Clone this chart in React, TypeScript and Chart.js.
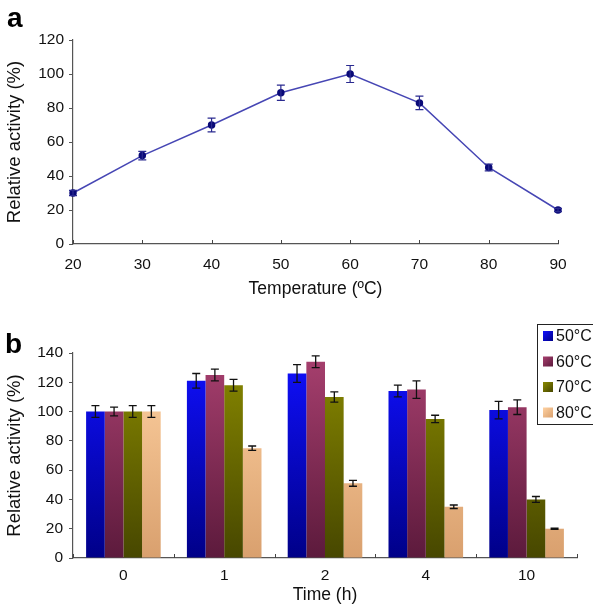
import React, { useEffect, useRef } from "react";
import { Chart, registerables } from "chart.js";

Chart.register(...registerables);

// ---- Panel a data ----
const temperatures = [20, 30, 40, 50, 60, 70, 80, 90];
const tempActivity = [30, 52, 70, 89, 100, 83, 45, 20];
const tempErrors = [1.5, 2.5, 4, 4.5, 5, 4, 2, 1];
const tempTicks = [20, 30, 40, 50, 60, 70, 80, 90];

// ---- Panel b data ----
const timeLabels = ["0", "1", "2", "4", "10"];
const seriesNames = ["50°C", "60°C", "70°C", "80°C"];
const act50 = [100, 121, 126, 114, 101];
const act60 = [100, 125, 134, 115, 103];
const act70 = [100, 118, 110, 95, 40];
const act80 = [100, 75, 51, 35, 20];
const err50 = [4, 5, 6, 4, 6];
const err60 = [3, 4, 4, 6, 5];
const err70 = [4, 4, 3.5, 2.5, 2];
const err80 = [4, 1.5, 2, 1.2, 0.4];

const FONT = "'Liberation Sans', Arial, sans-serif";

const seriesTop = ["#1010ff", "#a8406f", "#8a8a00", "#ffd2a2"];
const seriesBottom = ["#000088", "#5c1a3c", "#474700", "#d9a06e"];

const errorBarPlugin = {
  id: "errorBars",
  afterDatasetsDraw(chart: any) {
    const ctx = chart.ctx;
    const yScale = chart.scales.y;
    chart.data.datasets.forEach((ds: any, di: number) => {
      if (!ds.errors) return;
      const meta = chart.getDatasetMeta(di);
      ctx.save();
      ctx.strokeStyle = ds.errorColor || "#000";
      ctx.lineWidth = ds.errorWidth || 1.2;
      const cap = ds.errorCap || 4;
      meta.data.forEach((el: any, i: number) => {
        const v = ds.values[i];
        const e = ds.errors[i];
        const x = el.x;
        const y1 = yScale.getPixelForValue(v + e);
        const y2 = yScale.getPixelForValue(v - e);
        ctx.beginPath();
        ctx.moveTo(x, y1);
        ctx.lineTo(x, y2);
        ctx.moveTo(x - cap, y1);
        ctx.lineTo(x + cap, y1);
        ctx.moveTo(x - cap, y2);
        ctx.lineTo(x + cap, y2);
        ctx.stroke();
      });
      ctx.restore();
    });
  },
};

const innerTicksPlugin = {
  id: "innerTicks",
  afterDraw(chart: any, _args: any, opts: any) {
    const ctx = chart.ctx;
    const xs = chart.scales.x;
    const area = chart.chartArea;
    ctx.save();
    ctx.strokeStyle = "#444";
    ctx.lineWidth = 1;
    const positions: number[] = [];
    if (opts.boundaries) {
      const n = xs.ticks.length;
      for (let i = 0; i <= n; i++) positions.push(area.left + ((area.right - area.left) * i) / n);
    } else {
      xs.ticks.forEach((_t: any, i: number) => positions.push(xs.getPixelForTick(i)));
    }
    positions.forEach((p) => {
      const px = Math.round(p) + 0.5;
      ctx.beginPath();
      ctx.moveTo(px, area.bottom);
      ctx.lineTo(px, area.bottom - 4);
      ctx.stroke();
    });
    ctx.restore();
  },
};

const boxLegendPlugin = {
  id: "boxLegend",
  afterDraw(chart: any) {
    const ctx = chart.ctx;
    const area = chart.chartArea;
    const left = area.right - 40;
    const top = area.top - 29;
    const rowH = 25.5;
    ctx.save();
    ctx.strokeStyle = "#222";
    ctx.lineWidth = 1;
    ctx.fillStyle = "#fff";
    ctx.fillRect(left, top, chart.width - left + 2, 100);
    ctx.strokeRect(left + 0.5, top + 0.5, chart.width - left + 2, 100);
    chart.data.datasets.forEach((ds: any, i: number) => {
      const cy = top + 12 + i * rowH;
      const g = ctx.createLinearGradient(left + 6, cy - 5, left + 16, cy + 5);
      g.addColorStop(0, seriesTop[i]);
      g.addColorStop(1, seriesBottom[i]);
      ctx.fillStyle = g;
      ctx.fillRect(left + 6, cy - 5, 10, 10);
      ctx.fillStyle = "#111";
      ctx.font = `16px ${FONT}`;
      ctx.textBaseline = "middle";
      ctx.textAlign = "left";
      ctx.fillText(ds.label, left + 19, cy + 1);
    });
    ctx.restore();
  },
};

const panelLabelPlugin = {
  id: "panelLabel",
  afterDraw(chart: any, _args: any, opts: any) {
    const ctx = chart.ctx;
    ctx.save();
    ctx.fillStyle = "#000";
    ctx.font = `bold 28px ${FONT}`;
    ctx.textBaseline = "alphabetic";
    ctx.textAlign = "left";
    ctx.fillText(opts.text, opts.x, opts.y);
    ctx.restore();
  },
};

function tickFont() {
  return { family: FONT, size: 15.5 };
}

export default function App() {
  const refA = useRef<HTMLCanvasElement>(null);
  const refB = useRef<HTMLCanvasElement>(null);

  useEffect(() => {
    const chartA = new Chart(refA.current!, {
      type: "line",
      data: {
        datasets: [
          {
            label: "Relative activity",
            data: temperatures.map((t, i) => ({ x: t, y: tempActivity[i] })),
            values: tempActivity,
            borderColor: "#4646b4",
            borderWidth: 1.5,
            pointBackgroundColor: "#0a0a78",
            pointBorderColor: "#0a0a78",
            pointRadius: 3,
            pointStyle: "circle",
            tension: 0,
            clip: false,
            errors: tempErrors,
            errorColor: "#2a2a90",
            errorCap: 4,
            errorWidth: 1.2,
          } as any,
        ],
      },
      options: {
        animation: false,
        responsive: false,
        maintainAspectRatio: false,
        layout: { padding: { top: 40, right: 35, left: 0, bottom: 0 } },
        plugins: {
          legend: { display: false },
          tooltip: { enabled: false },
          innerTicks: { boundaries: false },
          panelLabel: { text: "a", x: 7, y: 27 },
        } as any,
        scales: {
          x: {
            type: "linear",
            min: 20,
            max: 90,
            afterBuildTicks: (s: any) => {
              s.ticks = tempTicks.map((v) => ({ value: v }));
            },
            grid: { display: false, drawTicks: false },
            border: { color: "#555", width: 1.2 },
            ticks: { font: tickFont(), color: "#111", padding: 11 },
            title: {
              display: true,
              text: "Temperature (ºC)",
              font: { family: FONT, size: 17.5 },
              color: "#111",
              padding: { top: 0, bottom: 0 },
            },
            afterFit: (s: any) => {
              s.height = 56;
            },
          },
          y: {
            min: 0,
            max: 120,
            ticks: { stepSize: 20, font: tickFont(), color: "#111", padding: 5 },
            grid: { drawOnChartArea: false, drawTicks: true, tickLength: 4, color: "#555" },
            border: { color: "#555", width: 1.2 },
            title: {
              display: true,
              text: "Relative activity (%)",
              font: { family: FONT, size: 18.5 },
              color: "#111",
              padding: { top: 4, bottom: 0 },
            },
            afterFit: (s: any) => {
              s.width = 73;
            },
          },
        },
      },
      plugins: [errorBarPlugin, innerTicksPlugin, panelLabelPlugin],
    });

    const seriesData = [act50, act60, act70, act80];
    const seriesErr = [err50, err60, err70, err80];

    const chartB = new Chart(refB.current!, {
      type: "bar",
      data: {
        labels: timeLabels,
        datasets: seriesNames.map((name, i) => ({
          label: name,
          data: seriesData[i],
          values: seriesData[i],
          errors: seriesErr[i],
          errorColor: "#111",
          errorCap: 4,
          errorWidth: 1.3,
          backgroundColor: (c: any) => {
            const ch = c.chart;
            const a = ch.chartArea;
            if (!a) return seriesTop[i];
            const g = ch.ctx.createLinearGradient(0, a.top, 0, a.bottom);
            g.addColorStop(0, seriesTop[i]);
            g.addColorStop(1, seriesBottom[i]);
            return g;
          },
          borderWidth: 0,
          barPercentage: 1,
          categoryPercentage: 0.74,
        })) as any,
      },
      options: {
        animation: false,
        responsive: false,
        maintainAspectRatio: false,
        layout: { padding: { top: 53, right: 16, left: 0, bottom: 0 } },
        plugins: {
          legend: { display: false },
          tooltip: { enabled: false },
          innerTicks: { boundaries: true },
          panelLabel: { text: "b", x: 5, y: 53 },
        } as any,
        scales: {
          x: {
            grid: { display: false, drawTicks: false },
            border: { color: "#555", width: 1.2 },
            ticks: { font: tickFont(), color: "#111", padding: 8 },
            title: {
              display: true,
              text: "Time (h)",
              font: { family: FONT, size: 17.5 },
              color: "#111",
              padding: { top: 0, bottom: 2 },
            },
            afterFit: (s: any) => {
              s.height = 50;
            },
          },
          y: {
            min: 0,
            max: 140,
            ticks: { stepSize: 20, font: tickFont(), color: "#111", padding: 6 },
            grid: { drawOnChartArea: false, drawTicks: true, tickLength: 4, color: "#555" },
            border: { color: "#555", width: 1.2 },
            title: {
              display: true,
              text: "Relative activity (%)",
              font: { family: FONT, size: 18.5 },
              color: "#111",
              padding: { top: 4, bottom: 0 },
            },
            afterFit: (s: any) => {
              s.width = 73;
            },
          },
        },
      },
      plugins: [errorBarPlugin, innerTicksPlugin, boxLegendPlugin, panelLabelPlugin],
    });

    return () => {
      chartA.destroy();
      chartB.destroy();
    };
  }, []);

  return (
    <div style={{ position: "fixed", left: 0, top: 0, width: 593, height: 608, background: "#fff" }}>
      <canvas ref={refA} width={593} height={300} style={{ position: "absolute", left: 0, top: 0 }} />
      <canvas ref={refB} width={593} height={308} style={{ position: "absolute", left: 0, top: 300 }} />
    </div>
  );
}
